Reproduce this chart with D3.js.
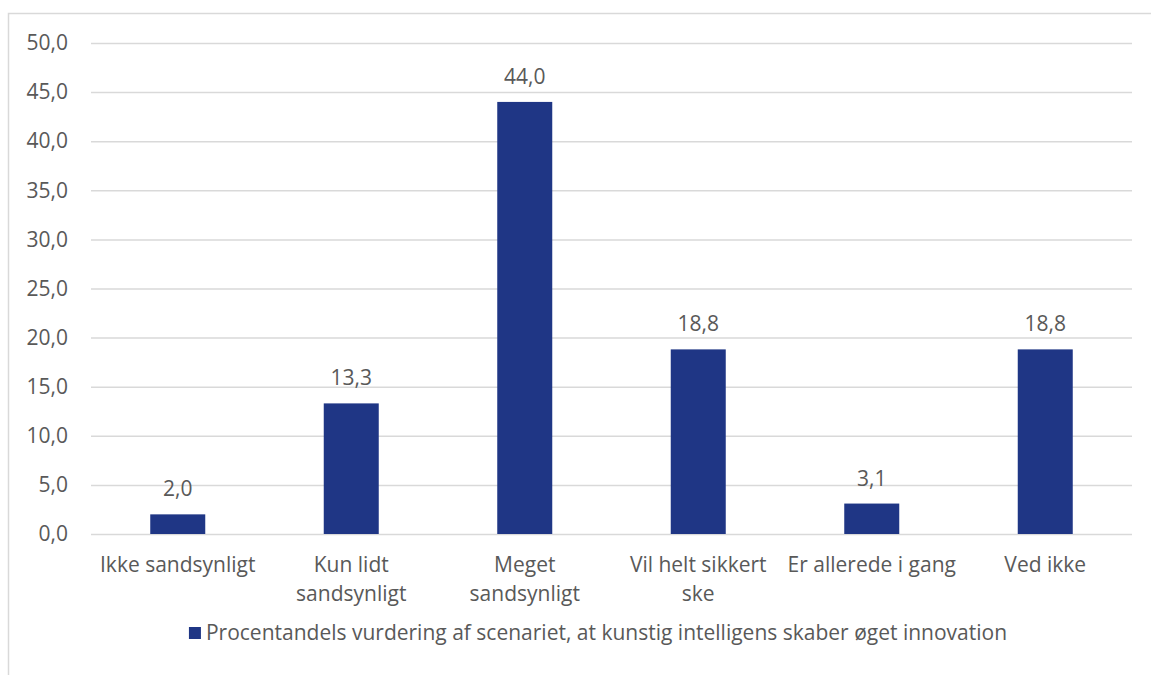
<!DOCTYPE html>
<html>
<head>
<meta charset="utf-8">
<script src="https://cdn.jsdelivr.net/npm/d3@7"></script>
<style>
  html, body { margin: 0; padding: 0; background: #ffffff; }
  svg { display: block; }
  text { font-family: "Open Sans", "Noto Sans", sans-serif; fill: #595959; }
</style>
</head>
<body>
<svg id="chart" width="1151" height="675"></svg>
<script>
// Survey answers: share of respondents (%) per assessment
const categories = [
  "Ikke sandsynligt",
  "Kun lidt\nsandsynligt",
  "Meget\nsandsynligt",
  "Vil helt sikkert\nske",
  "Er allerede i gang",
  "Ved ikke"
];
const values = [2.0, 13.3, 44.0, 18.8, 3.1, 18.8];
const yTicks = [0, 5, 10, 15, 20, 25, 30, 35, 40, 45, 50];
const seriesName = "Procentandels vurdering af scenariet, at kunstig intelligens skaber øget innovation";

const W = 1151, H = 675;
const plot = { left: 91, right: 1132, top: 43, bottom: 534 };
const barColor = "#1f3685";
const gridColor = "#d9d9d9";
const fontSize = 21;

const svg = d3.select("#chart");
const fmt = v => d3.format(".1f")(v).replace(".", ",");

// chart-area frame
svg.append("rect")
  .attr("x", 8.5).attr("y", 13.5)
  .attr("width", W + 20).attr("height", H)
  .attr("fill", "none")
  .attr("stroke", gridColor)
  .attr("stroke-width", 1.5);

const x = d3.scaleBand()
  .domain(categories)
  .range([plot.left, plot.right])
  .paddingInner(0.683)
  .paddingOuter(0.3415);

const y = d3.scaleLinear()
  .domain([0, 50])
  .range([plot.bottom, plot.top]);

// horizontal gridlines + value axis labels
const yAxis = d3.axisLeft(y)
  .tickValues(yTicks)
  .tickFormat(fmt)
  .tickSize(-(plot.right - plot.left))
  .tickPadding(23);

const gy = svg.append("g")
  .attr("transform", `translate(${plot.left},0)`)
  .call(yAxis);
gy.select(".domain").remove();
gy.selectAll(".tick line")
  .attr("stroke", gridColor)
  .attr("stroke-width", 1.5);
gy.selectAll(".tick text")
  .attr("font-size", fontSize)
  .attr("fill", "#595959")
  .style("font-family", "'Open Sans', sans-serif");

// bars
svg.append("g").selectAll("rect")
  .data(categories.map((c, i) => ({ c, v: values[i] })))
  .join("rect")
  .attr("x", d => x(d.c))
  .attr("y", d => y(d.v))
  .attr("width", x.bandwidth())
  .attr("height", d => y(0) - y(d.v))
  .attr("fill", barColor);

// value labels
svg.append("g").selectAll("text")
  .data(categories.map((c, i) => ({ c, v: values[i] })))
  .join("text")
  .attr("x", d => x(d.c) + x.bandwidth() / 2)
  .attr("y", d => y(d.v) - 18)
  .attr("text-anchor", "middle")
  .attr("font-size", fontSize)
  .text(d => fmt(d.v));

// category axis labels (multi-line)
const gx = svg.append("g");
categories.forEach(c => {
  const t = gx.append("text")
    .attr("x", x(c) + x.bandwidth() / 2)
    .attr("y", 572)
    .attr("text-anchor", "middle")
    .attr("font-size", fontSize);
  c.split("\n").forEach((line, i) => {
    t.append("tspan")
      .attr("x", x(c) + x.bandwidth() / 2)
      .attr("dy", i === 0 ? 0 : 29)
      .text(line);
  });
});

// legend
const legend = svg.append("g");
legend.append("rect")
  .attr("x", 0).attr("y", -6)
  .attr("width", 12).attr("height", 12)
  .attr("fill", barColor);
legend.append("text")
  .attr("x", 17).attr("y", 7)
  .attr("font-size", fontSize)
  .text(seriesName);
const lw = legend.node().getBBox().width;
legend.attr("transform", `translate(${598 - lw / 2},633)`);
</script>
</body>
</html>
